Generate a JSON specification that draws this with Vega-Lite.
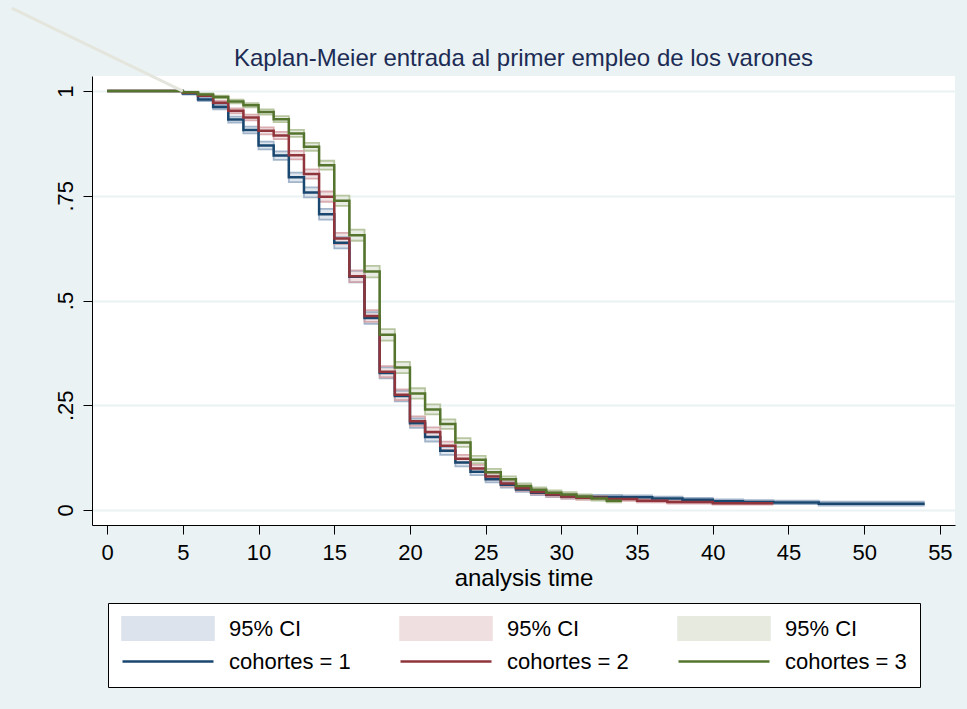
{
  "$schema": "https://vega.github.io/schema/vega-lite/v6.json",
  "width": 863,
  "height": 449,
  "autosize": {"type": "none"},
  "padding": {"left": 92, "top": 76, "right": 12, "bottom": 184},
  "background": "#EAF2F3",
  "title": {
    "text": "Kaplan-Meier entrada al primer empleo de los varones",
    "font": "Liberation Sans",
    "fontSize": 24,
    "fontWeight": "normal",
    "color": "#1c2c55",
    "anchor": "middle",
    "frame": "group",
    "baseline": "alphabetic",
    "offset": -88
  },
  "config": {
    "font": "Liberation Sans",
    "view": {"fill": "white", "stroke": null},
    "legend": {"strokeWidth": 1}
  },
  "datasets": {
    "km": [
      {"g": "cohortes = 1", "ci": "CI1", "t": 0, "s": 1, "lo": 1, "hi": 1},
      {"g": "cohortes = 1", "ci": "CI1", "t": 5, "s": 0.994, "lo": 0.9918, "hi": 0.9962},
      {"g": "cohortes = 1", "ci": "CI1", "t": 6, "s": 0.98, "lo": 0.9761, "hi": 0.9839},
      {"g": "cohortes = 1", "ci": "CI1", "t": 7, "s": 0.962, "lo": 0.9566, "hi": 0.9674},
      {"g": "cohortes = 1", "ci": "CI1", "t": 8, "s": 0.932, "lo": 0.925, "hi": 0.939},
      {"g": "cohortes = 1", "ci": "CI1", "t": 9, "s": 0.907, "lo": 0.8989, "hi": 0.9151},
      {"g": "cohortes = 1", "ci": "CI1", "t": 10, "s": 0.87, "lo": 0.8606, "hi": 0.8794},
      {"g": "cohortes = 1", "ci": "CI1", "t": 11, "s": 0.846, "lo": 0.8359, "hi": 0.8561},
      {"g": "cohortes = 1", "ci": "CI1", "t": 12, "s": 0.794, "lo": 0.7827, "hi": 0.8053},
      {"g": "cohortes = 1", "ci": "CI1", "t": 13, "s": 0.758, "lo": 0.746, "hi": 0.77},
      {"g": "cohortes = 1", "ci": "CI1", "t": 14, "s": 0.706, "lo": 0.6932, "hi": 0.7188},
      {"g": "cohortes = 1", "ci": "CI1", "t": 15, "s": 0.638, "lo": 0.6245, "hi": 0.6515},
      {"g": "cohortes = 1", "ci": "CI1", "t": 16, "s": 0.557, "lo": 0.5431, "hi": 0.5709},
      {"g": "cohortes = 1", "ci": "CI1", "t": 17, "s": 0.458, "lo": 0.4441, "hi": 0.4719},
      {"g": "cohortes = 1", "ci": "CI1", "t": 18, "s": 0.327, "lo": 0.3139, "hi": 0.3401},
      {"g": "cohortes = 1", "ci": "CI1", "t": 19, "s": 0.272, "lo": 0.2595, "hi": 0.2845},
      {"g": "cohortes = 1", "ci": "CI1", "t": 20, "s": 0.207, "lo": 0.1957, "hi": 0.2183},
      {"g": "cohortes = 1", "ci": "CI1", "t": 21, "s": 0.174, "lo": 0.1634, "hi": 0.1846},
      {"g": "cohortes = 1", "ci": "CI1", "t": 22, "s": 0.141, "lo": 0.1313, "hi": 0.1507},
      {"g": "cohortes = 1", "ci": "CI1", "t": 23, "s": 0.113, "lo": 0.1041, "hi": 0.1219},
      {"g": "cohortes = 1", "ci": "CI1", "t": 24, "s": 0.091, "lo": 0.0829, "hi": 0.0991},
      {"g": "cohortes = 1", "ci": "CI1", "t": 25, "s": 0.073, "lo": 0.0657, "hi": 0.0803},
      {"g": "cohortes = 1", "ci": "CI1", "t": 26, "s": 0.06, "lo": 0.0534, "hi": 0.0666},
      {"g": "cohortes = 1", "ci": "CI1", "t": 27, "s": 0.049, "lo": 0.043, "hi": 0.055},
      {"g": "cohortes = 1", "ci": "CI1", "t": 28, "s": 0.041, "lo": 0.0354, "hi": 0.0466},
      {"g": "cohortes = 1", "ci": "CI1", "t": 29, "s": 0.036, "lo": 0.0308, "hi": 0.0412},
      {"g": "cohortes = 1", "ci": "CI1", "t": 30, "s": 0.032, "lo": 0.0271, "hi": 0.0369},
      {"g": "cohortes = 1", "ci": "CI1", "t": 31, "s": 0.031, "lo": 0.0262, "hi": 0.0358},
      {"g": "cohortes = 1", "ci": "CI1", "t": 34, "s": 0.03, "lo": 0.0252, "hi": 0.0348},
      {"g": "cohortes = 1", "ci": "CI1", "t": 36, "s": 0.027, "lo": 0.0223, "hi": 0.0317},
      {"g": "cohortes = 1", "ci": "CI1", "t": 38, "s": 0.024, "lo": 0.0195, "hi": 0.0285},
      {"g": "cohortes = 1", "ci": "CI1", "t": 40, "s": 0.021, "lo": 0.0167, "hi": 0.0253},
      {"g": "cohortes = 1", "ci": "CI1", "t": 42, "s": 0.019, "lo": 0.0148, "hi": 0.0232},
      {"g": "cohortes = 1", "ci": "CI1", "t": 44, "s": 0.018, "lo": 0.0138, "hi": 0.0222},
      {"g": "cohortes = 1", "ci": "CI1", "t": 47, "s": 0.015, "lo": 0.0105, "hi": 0.0195},
      {"g": "cohortes = 1", "ci": "CI1", "t": 54, "s": 0.015, "lo": 0.0105, "hi": 0.0195},
      {"g": "cohortes = 2", "ci": "CI2", "t": 0, "s": 1, "lo": 1, "hi": 1},
      {"g": "cohortes = 2", "ci": "CI2", "t": 5, "s": 0.996, "lo": 0.9942, "hi": 0.9978},
      {"g": "cohortes = 2", "ci": "CI2", "t": 6, "s": 0.989, "lo": 0.9861, "hi": 0.9919},
      {"g": "cohortes = 2", "ci": "CI2", "t": 7, "s": 0.972, "lo": 0.9674, "hi": 0.9766},
      {"g": "cohortes = 2", "ci": "CI2", "t": 8, "s": 0.953, "lo": 0.9471, "hi": 0.9589},
      {"g": "cohortes = 2", "ci": "CI2", "t": 9, "s": 0.937, "lo": 0.9302, "hi": 0.9438},
      {"g": "cohortes = 2", "ci": "CI2", "t": 10, "s": 0.905, "lo": 0.8968, "hi": 0.9132},
      {"g": "cohortes = 2", "ci": "CI2", "t": 11, "s": 0.894, "lo": 0.8854, "hi": 0.9026},
      {"g": "cohortes = 2", "ci": "CI2", "t": 12, "s": 0.847, "lo": 0.8369, "hi": 0.8571},
      {"g": "cohortes = 2", "ci": "CI2", "t": 13, "s": 0.802, "lo": 0.7908, "hi": 0.8132},
      {"g": "cohortes = 2", "ci": "CI2", "t": 14, "s": 0.748, "lo": 0.7358, "hi": 0.7602},
      {"g": "cohortes = 2", "ci": "CI2", "t": 15, "s": 0.648, "lo": 0.6346, "hi": 0.6614},
      {"g": "cohortes = 2", "ci": "CI2", "t": 16, "s": 0.558, "lo": 0.5441, "hi": 0.5719},
      {"g": "cohortes = 2", "ci": "CI2", "t": 17, "s": 0.463, "lo": 0.449, "hi": 0.477},
      {"g": "cohortes = 2", "ci": "CI2", "t": 18, "s": 0.33, "lo": 0.3168, "hi": 0.3432},
      {"g": "cohortes = 2", "ci": "CI2", "t": 19, "s": 0.275, "lo": 0.2625, "hi": 0.2875},
      {"g": "cohortes = 2", "ci": "CI2", "t": 20, "s": 0.212, "lo": 0.2006, "hi": 0.2234},
      {"g": "cohortes = 2", "ci": "CI2", "t": 21, "s": 0.186, "lo": 0.1751, "hi": 0.1969},
      {"g": "cohortes = 2", "ci": "CI2", "t": 22, "s": 0.153, "lo": 0.1429, "hi": 0.1631},
      {"g": "cohortes = 2", "ci": "CI2", "t": 23, "s": 0.122, "lo": 0.1128, "hi": 0.1312},
      {"g": "cohortes = 2", "ci": "CI2", "t": 24, "s": 0.099, "lo": 0.0906, "hi": 0.1074},
      {"g": "cohortes = 2", "ci": "CI2", "t": 25, "s": 0.08, "lo": 0.0724, "hi": 0.0876},
      {"g": "cohortes = 2", "ci": "CI2", "t": 26, "s": 0.063, "lo": 0.0562, "hi": 0.0698},
      {"g": "cohortes = 2", "ci": "CI2", "t": 27, "s": 0.052, "lo": 0.0458, "hi": 0.0582},
      {"g": "cohortes = 2", "ci": "CI2", "t": 28, "s": 0.043, "lo": 0.0373, "hi": 0.0487},
      {"g": "cohortes = 2", "ci": "CI2", "t": 29, "s": 0.037, "lo": 0.0317, "hi": 0.0423},
      {"g": "cohortes = 2", "ci": "CI2", "t": 30, "s": 0.032, "lo": 0.0271, "hi": 0.0369},
      {"g": "cohortes = 2", "ci": "CI2", "t": 31, "s": 0.029, "lo": 0.0243, "hi": 0.0337},
      {"g": "cohortes = 2", "ci": "CI2", "t": 33, "s": 0.026, "lo": 0.0215, "hi": 0.0305},
      {"g": "cohortes = 2", "ci": "CI2", "t": 35, "s": 0.022, "lo": 0.0179, "hi": 0.0261},
      {"g": "cohortes = 2", "ci": "CI2", "t": 37, "s": 0.019, "lo": 0.0152, "hi": 0.0228},
      {"g": "cohortes = 2", "ci": "CI2", "t": 40, "s": 0.016, "lo": 0.0125, "hi": 0.0195},
      {"g": "cohortes = 2", "ci": "CI2", "t": 44, "s": 0.016, "lo": 0.0125, "hi": 0.0195},
      {"g": "cohortes = 3", "ci": "CI3", "t": 0, "s": 1, "lo": 1, "hi": 1},
      {"g": "cohortes = 3", "ci": "CI3", "t": 5, "s": 0.997, "lo": 0.9955, "hi": 0.9985},
      {"g": "cohortes = 3", "ci": "CI3", "t": 6, "s": 0.992, "lo": 0.9895, "hi": 0.9945},
      {"g": "cohortes = 3", "ci": "CI3", "t": 7, "s": 0.986, "lo": 0.9827, "hi": 0.9893},
      {"g": "cohortes = 3", "ci": "CI3", "t": 8, "s": 0.975, "lo": 0.9706, "hi": 0.9794},
      {"g": "cohortes = 3", "ci": "CI3", "t": 9, "s": 0.966, "lo": 0.9609, "hi": 0.9711},
      {"g": "cohortes = 3", "ci": "CI3", "t": 10, "s": 0.95, "lo": 0.9439, "hi": 0.9561},
      {"g": "cohortes = 3", "ci": "CI3", "t": 11, "s": 0.933, "lo": 0.926, "hi": 0.94},
      {"g": "cohortes = 3", "ci": "CI3", "t": 12, "s": 0.899, "lo": 0.8906, "hi": 0.9074},
      {"g": "cohortes = 3", "ci": "CI3", "t": 13, "s": 0.867, "lo": 0.8575, "hi": 0.8765},
      {"g": "cohortes = 3", "ci": "CI3", "t": 14, "s": 0.823, "lo": 0.8123, "hi": 0.8337},
      {"g": "cohortes = 3", "ci": "CI3", "t": 15, "s": 0.738, "lo": 0.7257, "hi": 0.7503},
      {"g": "cohortes = 3", "ci": "CI3", "t": 16, "s": 0.656, "lo": 0.6427, "hi": 0.6693},
      {"g": "cohortes = 3", "ci": "CI3", "t": 17, "s": 0.569, "lo": 0.5551, "hi": 0.5829},
      {"g": "cohortes = 3", "ci": "CI3", "t": 18, "s": 0.418, "lo": 0.4042, "hi": 0.4318},
      {"g": "cohortes = 3", "ci": "CI3", "t": 19, "s": 0.34, "lo": 0.3267, "hi": 0.3533},
      {"g": "cohortes = 3", "ci": "CI3", "t": 20, "s": 0.278, "lo": 0.2655, "hi": 0.2905},
      {"g": "cohortes = 3", "ci": "CI3", "t": 21, "s": 0.24, "lo": 0.228, "hi": 0.252},
      {"g": "cohortes = 3", "ci": "CI3", "t": 22, "s": 0.205, "lo": 0.1937, "hi": 0.2163},
      {"g": "cohortes = 3", "ci": "CI3", "t": 23, "s": 0.161, "lo": 0.1507, "hi": 0.1713},
      {"g": "cohortes = 3", "ci": "CI3", "t": 24, "s": 0.12, "lo": 0.1109, "hi": 0.1291},
      {"g": "cohortes = 3", "ci": "CI3", "t": 25, "s": 0.09, "lo": 0.082, "hi": 0.098},
      {"g": "cohortes = 3", "ci": "CI3", "t": 26, "s": 0.073, "lo": 0.0657, "hi": 0.0803},
      {"g": "cohortes = 3", "ci": "CI3", "t": 27, "s": 0.057, "lo": 0.0505, "hi": 0.0635},
      {"g": "cohortes = 3", "ci": "CI3", "t": 28, "s": 0.048, "lo": 0.042, "hi": 0.054},
      {"g": "cohortes = 3", "ci": "CI3", "t": 29, "s": 0.041, "lo": 0.0354, "hi": 0.0466},
      {"g": "cohortes = 3", "ci": "CI3", "t": 30, "s": 0.037, "lo": 0.0317, "hi": 0.0423},
      {"g": "cohortes = 3", "ci": "CI3", "t": 31, "s": 0.032, "lo": 0.0271, "hi": 0.0369},
      {"g": "cohortes = 3", "ci": "CI3", "t": 32, "s": 0.027, "lo": 0.0225, "hi": 0.0315},
      {"g": "cohortes = 3", "ci": "CI3", "t": 33, "s": 0.022, "lo": 0.0179, "hi": 0.0261},
      {"g": "cohortes = 3", "ci": "CI3", "t": 34, "s": 0.022, "lo": 0.0179, "hi": 0.0261}
    ],
    "stray": [
      {"t": -6.3, "v": 1.198},
      {"t": 5, "v": 1.0}
    ]
  },
  "layer": [
    {
      "data": {"name": "km"},
      "mark": {"type": "area", "interpolate": "step-after", "opacity": 0.9},
      "encoding": {
        "x": {
          "field": "t", "type": "quantitative",
          "scale": {"domain": [-1, 56], "nice": false, "zero": false},
          "axis": {
            "values": [0, 5, 10, 15, 20, 25, 30, 35, 40, 45, 50, 55],
            "title": "analysis time",
            "titleFont": "Liberation Sans", "titleFontSize": 24, "titleFontWeight": "normal", "titleColor": "black", "titlePadding": 3,
            "labelFont": "Liberation Sans", "labelFontSize": 22, "labelColor": "black", "labelPadding": 8,
            "tickSize": 9, "tickColor": "black", "domainColor": "black", "grid": false, "labelFlush": false, "labelOverlap": false
          }
        },
        "y": {
          "field": "lo", "type": "quantitative",
          "scale": {"domain": [-0.036, 1.036], "nice": false, "zero": false},
          "axis": {
            "values": [0, 0.25, 0.5, 0.75, 1],
            "labelExpr": "datum.value == 0 ? '0' : datum.value == 1 ? '1' : datum.value == 0.5 ? '.5' : datum.value == 0.25 ? '.25' : '.75'",
            "title": null,
            "labelFont": "Liberation Sans", "labelFontSize": 22, "labelColor": "black",
            "labelAngle": -90, "labelAlign": "center", "labelBaseline": "bottom", "labelPadding": 6,
            "tickSize": 9, "tickColor": "black", "domainColor": "black",
            "grid": true, "gridColor": "#EAF2F3", "gridWidth": 2, "labelFlush": false, "labelOverlap": false
          }
        },
        "y2": {"field": "hi"},
        "color": {
          "field": "ci", "type": "nominal",
          "scale": {
            "domain": ["CI1", "CI2", "CI3", "cohortes = 1", "cohortes = 2", "cohortes = 3"],
            "range": ["#dde3ec", "#f0dfe1", "#e6eadf", "#1a476f", "#90353b", "#55752f"]
          },
          "legend": {
            "title": null,
            "orient": "none",
            "legendX": 16,
            "legendY": 527,
            "direction": "horizontal",
            "columns": 3,
            "gridAlign": "all",
            "columnPadding": 48,
            "rowPadding": 8,
            "clipHeight": 25,
            "symbolSize": 8281,
            "symbolType": "square",
            "labelFont": "Liberation Sans",
            "labelFontSize": 22,
            "labelColor": "black",
            "labelOffset": 14,
            "labelLimit": 400,
            "labelExpr": "indexof(datum.value, 'CI') == 0 ? '95% CI' : datum.label",
            "padding": 13,
            "strokeColor": "black",
            "fillColor": "white",
            "cornerRadius": 0,
            "encode": {
              "symbols": {
                "update": {
                  "shape": {"signal": "indexof(datum.value, 'CI') == 0 ? 'M-1,-0.275H1V0.275H-1Z' : 'stroke'"},
                  "fill": {"signal": "indexof(datum.value, 'CI') == 0 ? scale('color', datum.value) : 'transparent'"},
                  "stroke": {"signal": "indexof(datum.value, 'CI') == 0 ? 'transparent' : scale('color', datum.value)"},
                  "strokeWidth": {"value": 2.5},
                  "opacity": {"value": 1},
                  "fillOpacity": {"value": 1},
                  "strokeOpacity": {"value": 1}
                }
              }
            }
          }
        }
      }
    },
    {
      "data": {"name": "km"},
      "mark": {"type": "line", "interpolate": "step-after", "strokeWidth": 1.8, "opacity": 0.85},
      "encoding": {
        "x": {"field": "t", "type": "quantitative", "title": "analysis time"},
        "y": {"field": "lo", "type": "quantitative", "title": null},
        "stroke": {
          "field": "g", "type": "nominal",
          "scale": {"domain": ["cohortes = 1", "cohortes = 2", "cohortes = 3"], "range": ["#94a9c2", "#d3a1a6", "#adbd93"]},
          "legend": null
        }
      }
    },
    {
      "data": {"name": "km"},
      "mark": {"type": "line", "interpolate": "step-after", "strokeWidth": 1.8, "opacity": 0.85},
      "encoding": {
        "x": {"field": "t", "type": "quantitative", "title": "analysis time"},
        "y": {"field": "hi", "type": "quantitative", "title": null},
        "stroke": {"field": "g", "type": "nominal", "legend": null}
      }
    },
    {
      "data": {"name": "km"},
      "mark": {"type": "line", "interpolate": "step-after", "strokeWidth": 2.5},
      "encoding": {
        "x": {"field": "t", "type": "quantitative", "title": "analysis time"},
        "y": {"field": "s", "type": "quantitative", "title": null},
        "color": {
          "field": "g", "type": "nominal",
          "legend": {
            "title": null,
            "orient": "none",
            "legendX": 16,
            "legendY": 527,
            "direction": "horizontal",
            "columns": 3,
            "gridAlign": "all",
            "columnPadding": 48,
            "rowPadding": 8,
            "clipHeight": 25,
            "symbolSize": 8281,
            "symbolType": "square",
            "labelFont": "Liberation Sans",
            "labelFontSize": 22,
            "labelColor": "black",
            "labelOffset": 14,
            "labelLimit": 400,
            "labelExpr": "indexof(datum.value, 'CI') == 0 ? '95% CI' : datum.label",
            "padding": 13,
            "strokeColor": "black",
            "fillColor": "white",
            "cornerRadius": 0,
            "encode": {
              "symbols": {
                "update": {
                  "shape": {"signal": "indexof(datum.value, 'CI') == 0 ? 'M-1,-0.275H1V0.275H-1Z' : 'stroke'"},
                  "fill": {"signal": "indexof(datum.value, 'CI') == 0 ? scale('color', datum.value) : 'transparent'"},
                  "stroke": {"signal": "indexof(datum.value, 'CI') == 0 ? 'transparent' : scale('color', datum.value)"},
                  "strokeWidth": {"value": 2.5},
                  "opacity": {"value": 1},
                  "fillOpacity": {"value": 1},
                  "strokeOpacity": {"value": 1}
                }
              }
            }
          }
        }
      }
    },
    {
      "data": {"name": "stray"},
      "mark": {"type": "line", "strokeWidth": 3, "color": "#e4e6dd", "clip": false},
      "encoding": {
        "x": {"field": "t", "type": "quantitative", "title": "analysis time"},
        "y": {"field": "v", "type": "quantitative", "title": null}
      }
    }
  ]
}
